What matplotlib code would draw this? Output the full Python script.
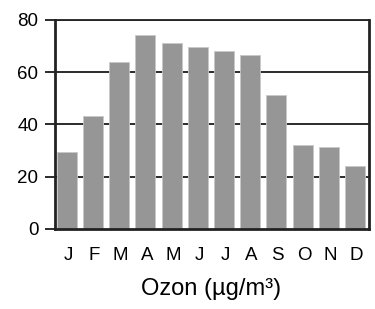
import matplotlib.pyplot as plt
import numpy as np

plt.rcParams['font.family'] = ['Liberation Sans', 'DejaVu Sans']

months = ["J", "F", "M", "A", "M", "J", "J", "A", "S", "O", "N", "D"]
ozone = [29.5, 43.3, 63.8, 74.3, 71.3, 69.7, 68.2, 66.7, 51.3, 32.2, 31.4, 24.1]
yticks = [0, 20, 40, 60, 80]

fig = plt.figure(figsize=(3.75, 3.09), dpi=100)
ax = fig.add_axes([0.1467, 0.2589, 0.8386, 0.6764])

x = np.arange(len(months))

# grid lines behind the bars
for v in yticks[1:]:
    ax.axhline(v, color="#1a1a1a", linewidth=1.3, zorder=1)

ax.bar(
    x + 0.07,
    ozone,
    width=0.76,
    align="edge",
    color="#969696",
    edgecolor="#c8c8c8",
    linewidth=0.6,
    zorder=2,
)

ax.set_xlim(0, 12)
ax.set_ylim(0, 80)

ax.set_xticks(x + 0.5)
ax.set_xticklabels(months, fontsize=13.5)
ax.tick_params(axis="x", length=0, pad=13)

ax.set_yticks(yticks)
ax.set_yticklabels([str(v) for v in yticks], fontsize=13.5)
ax.tick_params(axis="y", length=7, width=1.3, color="#1a1a1a", pad=5)

for side in ["left", "bottom", "right", "top"]:
    ax.spines[side].set_color("#222222")
ax.spines["left"].set_linewidth(2)
ax.spines["bottom"].set_linewidth(2)
ax.spines["right"].set_linewidth(2)
ax.spines["top"].set_linewidth(1.3)

fig.text(0.563, 0.03, "Ozon (µg/m³)", fontsize=17, ha="center", va="bottom")

fig.savefig("out.png", dpi=100)
